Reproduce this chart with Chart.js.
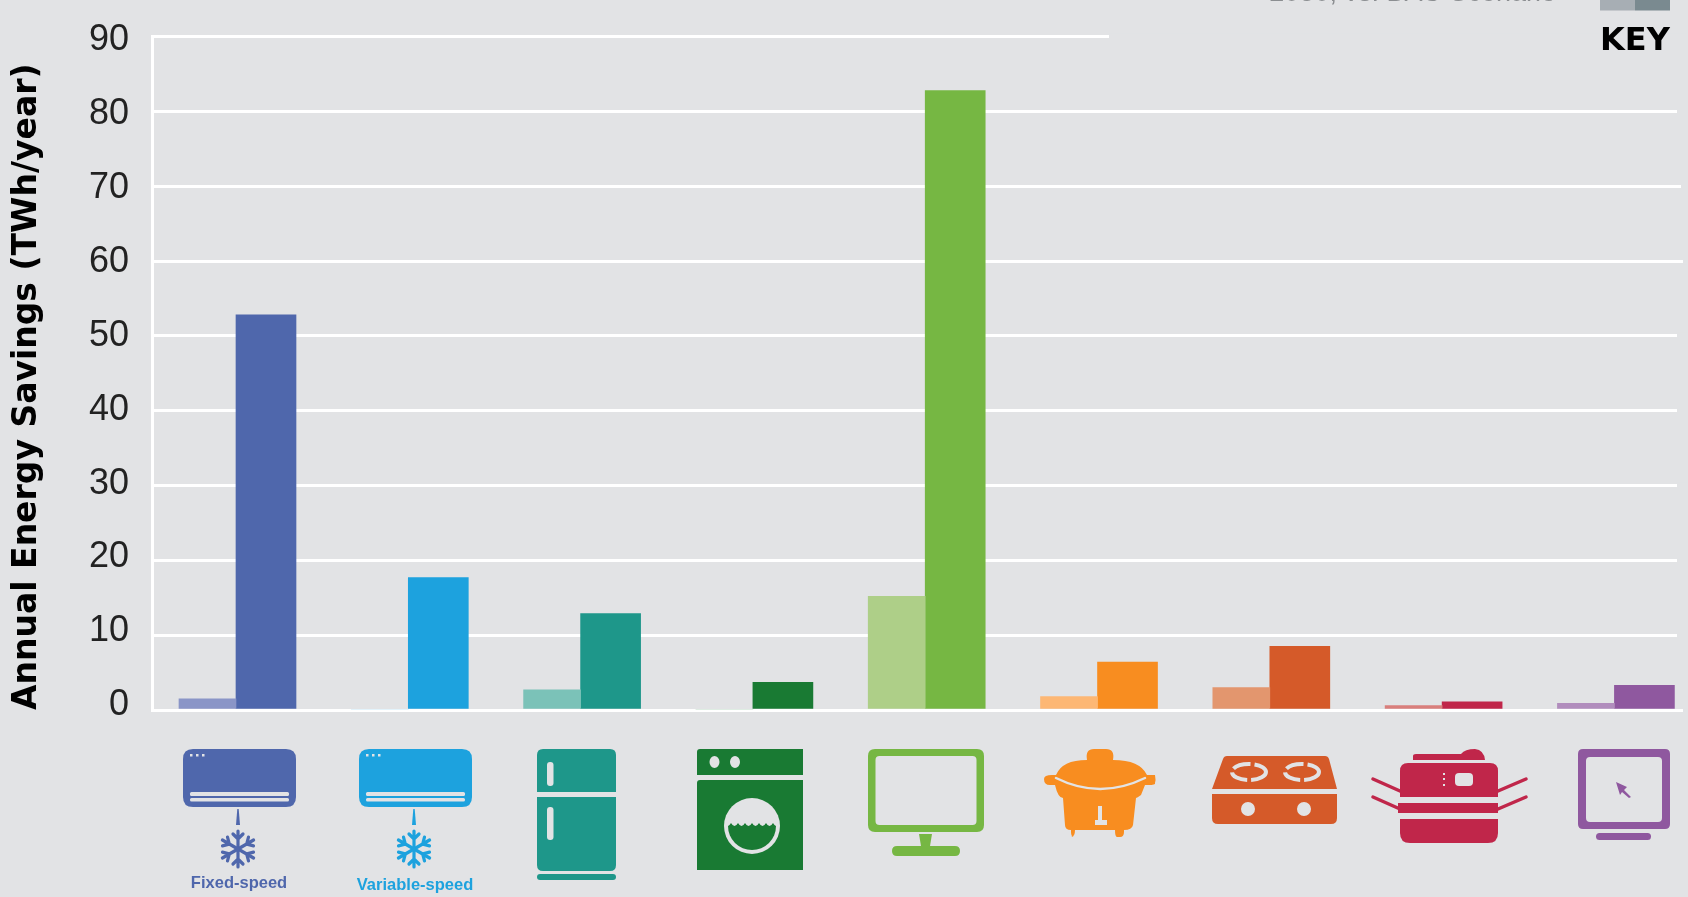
<!DOCTYPE html>
<html><head><meta charset="utf-8">
<style>html,body{margin:0;padding:0;background:#e2e3e5;overflow:hidden}
canvas{display:block}</style>
<script src="https://cdn.jsdelivr.net/npm/chart.js@4"></script>
</head><body><canvas id="c" width="1688" height="897"></canvas>
<script>
const categories=["Fixed-speed room AC","Variable-speed room AC","Refrigerator","Washing machine","Television","Rice cooker","Gas stove","Copier","Computer monitor"];
const positions=[0,1,2,3,4,5,6,7,8];
const lowValues=[1.5,0,2.7,0,15.2,1.8,3.0,0.6,0.9];
const highValues=[52.8,17.7,12.9,3.7,82.8,6.4,8.5,1.1,3.3];
const lowColors=["#8a95c7","#8fd0ef","#7bc2b8","#7fb78e","#aecf88","#fdb774","#e3966e","#d97f7c","#b18dbd"];
const highColors=["#4f67ac","#1da2de","#1e978a","#197a33","#76b743","#f88d20","#d55a29","#c0264a","#8f589f"];
const axisTitle="Annual Energy Savings (TWh/year)";
const keyWord="KEY";
const keyCaption="2030, vs. BAU Scenario";
const acCaptions=["Fixed-speed","Variable-speed"];
const bg="#e2e3e5";

// where each horizontal rule stops, by tick value
const ruleEnds={90:1109,80:1677,70:1681,60:1683,50:1677,40:1677,30:1677,20:1677,10:1677,0:1683};

function fillPath(g,color,d){g.fillStyle=color;g.fill(new Path2D(d),"evenodd");}
function strokePath(g,color,w,d,dash){g.save();g.strokeStyle=color;g.lineWidth=w;g.lineCap="round";if(dash)g.setLineDash(dash);g.stroke(new Path2D(d));g.restore();}
function roundRect(x,y,w,h,r){return `M${x+r} ${y}H${x+w-r}Q${x+w} ${y} ${x+w} ${y+r}V${y+h-r}Q${x+w} ${y+h} ${x+w-r} ${y+h}H${x+r}Q${x} ${y+h} ${x} ${y+h-r}V${y+r}Q${x} ${y} ${x+r} ${y}Z`;}

function drawSnowflake(g,cx,cy,color){
  g.save();g.translate(cx,cy);g.strokeStyle=color;g.lineWidth=3.2;g.lineCap="round";
  for(let k=0;k<6;k++){
    g.save();g.rotate(k*Math.PI/3);
    g.beginPath();g.moveTo(0,0);g.lineTo(0,-18);
    g.moveTo(-5,-15);g.lineTo(0,-10);g.lineTo(5,-15);
    g.stroke();g.restore();
  }
  g.restore();
}
function drawAC(g,x,color,cap,capY){
  fillPath(g,color,roundRect(x,749,113,58,10));
  fillPath(g,bg,roundRect(x+7,792,99,4,1.5));
  fillPath(g,bg,roundRect(x+7,798,99,3.5,1.5));
  g.fillStyle=bg;[7,13,19].forEach(d=>g.fillRect(x+d,754,2.5,2.5));
  const c=x+55;
  fillPath(g,color,`M${c-.7} 809L${c+.7} 809L${c+2} 825L${c-2} 825Z`);
  drawSnowflake(g,c,849,color);
  g.fillStyle=color;g.font="bold 16.5px 'Liberation Sans'";g.textAlign="center";g.textBaseline="middle";
  g.fillText(cap,c+1,capY);
}
function drawFridge(g){
  const c="#1e978a";
  fillPath(g,c,"M543 749H610Q616 749 616 755V792H537V755Q537 749 543 749Z");
  fillPath(g,c,"M537 797H616V865Q616 871 610 871H543Q537 871 537 865Z");
  fillPath(g,c,roundRect(537,874,79,6,3));
  fillPath(g,bg,roundRect(547,762,6.5,24,3));
  fillPath(g,bg,roundRect(547,807,6.5,33,3));
}
function drawWasher(g){
  const c="#197a33";
  fillPath(g,c,"M700 749H803V775H697V752Q697 749 700 749Z");
  fillPath(g,c,"M700 780H803V870H697V783Q697 780 700 780Z");
  g.fillStyle=bg;
  g.beginPath();g.ellipse(714.5,762,5,6,0,0,7);g.ellipse(735,762,5,6,0,0,7);g.fill();
  g.beginPath();g.ellipse(752,826,28,28,0,0,7);g.fill();
  g.save();g.beginPath();g.ellipse(752,826,24,24,0,0,7);g.clip();
  fillPath(g,c,"M724 823q3.5 6 7 0q3.5 6 7 0q3.5 6 7 0q3.5 6 7 0q3.5 6 7 0q3.5 6 7 0q3.5 6 7 0q3.5 6 7 0V860H724Z");
  g.restore();
}
function drawTV(g){
  const c="#76b743";
  fillPath(g,c,roundRect(868,749,116,83,7)+roundRect(875.5,756,101,69,4));
  fillPath(g,c,"M919 834H932L930 846H921Z");
  fillPath(g,c,roundRect(892,846,68,10,5));
}
function drawCooker(g){
  const c="#f88d20";
  fillPath(g,c,"M1087 760Q1085 749 1094 749H1106Q1115 749 1113 760Q1140 760 1147 775L1155 775Q1156 780 1155 783Q1156 785 1148 785L1145 785L1141 795Q1137 798 1136 798L1133 825Q1132 830 1124 830V832Q1124 837 1120 837H1117Q1115 837 1115 830H1075Q1075 837 1071 837H1074Q1071 837 1071 832V830Q1065 830 1065 825L1063 798Q1058 798 1055 785H1050Q1044 785 1044 779Q1044 775 1052 775H1056Q1062 760 1087 760Z");
  strokePath(g,bg,2.5,"M1056 778Q1100 800 1145 778");
  fillPath(g,bg,"M1098 806H1102V820H1107V825H1095V820H1098Z");
}
function drawStove(g){
  const c="#d55a29";
  fillPath(g,c,"M1227 756H1325Q1328 756 1329 759L1337 789H1212L1223 759Q1224 756 1227 756Z");
  fillPath(g,c,"M1212 794H1337V818Q1337 824 1331 824H1218Q1212 824 1212 818Z");
  g.fillStyle=bg;g.beginPath();g.ellipse(1248,809,7,7,0,0,7);g.ellipse(1304,809,7,7,0,0,7);g.fill();
  g.save();g.strokeStyle=bg;g.lineWidth=4;g.setLineDash([18,4]);
  g.beginPath();g.ellipse(1249,772,17,8,0,0,7);g.stroke();
  g.beginPath();g.ellipse(1302,772,17,8,0,0,7);g.stroke();g.restore();
}
function drawCopier(g){
  const c="#c0264a";
  strokePath(g,c,3.5,"M1373 779L1400 791M1373 797L1400 809M1526 779L1498 791M1526 797L1498 809");
  fillPath(g,c,"M1413 756Q1413 754 1416 754H1461Q1465 749 1475 749Q1484 750 1485 760H1413Z");
  fillPath(g,c,"M1408 763H1490Q1498 763 1498 771V797H1400V771Q1400 763 1408 763Z");
  fillPath(g,c,"M1398 803H1498V813H1398Z");
  fillPath(g,c,"M1400 819H1498V833Q1498 843 1488 843H1410Q1400 843 1400 833Z");
  fillPath(g,bg,roundRect(1455,773,18,13,4));
  g.fillStyle=bg;[773,778,784].forEach(y=>g.fillRect(1443,y,2,2));
}
function drawMonitor(g){
  const c="#8f589f";
  fillPath(g,c,roundRect(1578,749,92,80,5)+roundRect(1586,757,76,65,4));
  fillPath(g,c,roundRect(1596,833,55,7,3.5));
  fillPath(g,c,"M1616 782L1627 787L1624 790L1631 797L1629 798L1622 792L1620 795Z");
}

new Chart(document.getElementById("c"),{type:"bar",
 data:{datasets:[
  {label:"Low",data:positions.map(i=>({x:i,y:lowValues[i]})),backgroundColor:lowColors,barThickness:57,borderWidth:0},
  {label:"High",data:positions.map(i=>({x:i,y:highValues[i]})),backgroundColor:highColors,barThickness:60,borderWidth:0}]},
 options:{responsive:false,animation:false,
  layout:{padding:{left:0,top:18,right:5,bottom:187}},
  plugins:{legend:{display:false},tooltip:{enabled:false}},
  scales:{
   x:{type:"linear",offset:false,min:-0.4875,max:8.398,display:false,grid:{display:false}},
   y:{min:0,max:90,position:"left",weight:0,
      afterFit(s){s.width=0;},
      ticks:{display:false,stepSize:10},
      grid:{color:"#fff",lineWidth:3,drawTicks:false},
      border:{color:"#fff",width:3}},
   yLabels:{position:"left",weight:1,min:-0.66,max:90.53,
      afterFit(s){s.width=152;},
      ticks:{stepSize:10,includeBounds:false,color:"#222",padding:15,font:{family:"'Liberation Sans'",size:36}},
      grid:{display:false},border:{display:false},
      title:{display:true,text:axisTitle,align:"start",color:"#000",padding:{top:8,bottom:0},
             font:{family:"'DejaVu Sans'",weight:"bold",size:33}}}
  }},
 plugins:[{id:"decor",
  beforeDatasetsDraw(ch){
   const g=ch.ctx,y=ch.scales.y,a=ch.chartArea;
   g.save();g.fillStyle=bg;
   Object.keys(ruleEnds).forEach(t=>{const p=y.getPixelForValue(+t);g.fillRect(ruleEnds[t],p-3,a.right-ruleEnds[t]+4,6);});
   g.restore();
  },
  afterDraw(ch){
   const g=ch.ctx;g.save();
   // key fragment in the top right corner
   g.fillStyle="#a7aeb4";g.fillRect(1600,0,35,10.5);
   g.fillStyle="#7a8a90";g.fillRect(1635,0,35,10.5);
   g.fillStyle="#000";g.font="bold 32px 'DejaVu Sans'";g.textAlign="left";g.textBaseline="alphabetic";
   g.fillText(keyWord,1600,50);
   g.fillStyle="#8b8e91";g.font="27px 'Liberation Sans'";g.textAlign="right";
   g.fillText(keyCaption,1556,1);
   drawAC(g,183,highColors[0],acCaptions[0],883);
   drawAC(g,359,highColors[1],acCaptions[1],885);
   drawFridge(g);drawWasher(g);drawTV(g);drawCooker(g);drawStove(g);drawCopier(g);drawMonitor(g);
   g.restore();
  }}]
});
</script></body></html>
